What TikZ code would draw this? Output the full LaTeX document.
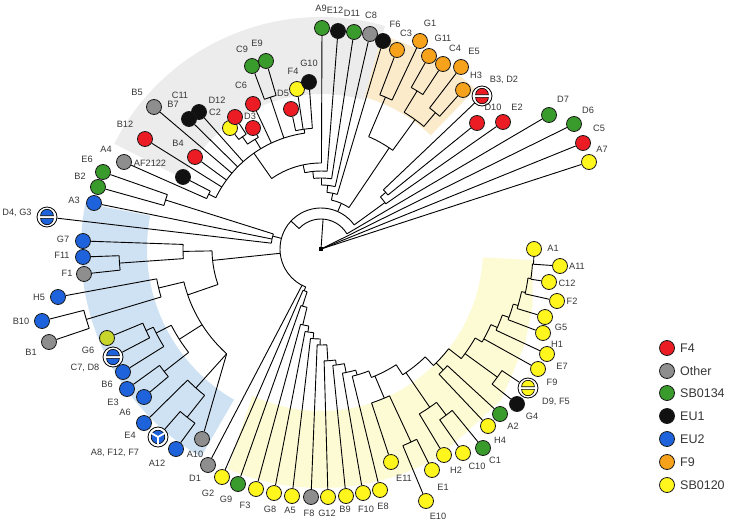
\documentclass[tikz,border=0pt]{standalone}
\usepackage{fontspec}
\setmainfont{Liberation Sans}
\definecolor{cred}{RGB}{236,28,36}
\definecolor{cgry}{RGB}{142,142,142}
\definecolor{cgrn}{RGB}{58,155,45}
\definecolor{cblk}{RGB}{17,17,17}
\definecolor{cblue}{RGB}{30,99,219}
\definecolor{corg}{RGB}{247,162,27}
\definecolor{cyel}{RGB}{255,246,30}
\definecolor{cyg}{RGB}{200,214,44}
\definecolor{shgray}{RGB}{236,236,236}
\definecolor{shorg}{RGB}{251,235,203}
\definecolor{shblue}{RGB}{207,226,243}
\definecolor{shyel}{RGB}{253,251,211}
\definecolor{labcol}{RGB}{55,55,55}
\pgfdeclarelayer{shade}
\pgfdeclarelayer{branches}
\pgfsetlayers{shade,branches,main}
\newcommand\brArc[3]{\draw[br] (#2:#1pt) arc[start angle=#2,end angle=#3,radius=#1pt];}
\newcommand\brRad[3]{\draw[br] (#1:#2pt) -- (#1:#3pt);}
\newcommand\brLeaf[3]{\draw[br] (#2:#1pt) -- (#3);}
\newcommand\halfdisks[2]{%
 \filldraw[fill=#2,draw=black,line width=0.6pt] ([shift={(6.4pt,1.3pt)}]#1.center) arc[start angle=0,end angle=180,radius=6.4pt] -- cycle;
 \filldraw[fill=#2,draw=black,line width=0.6pt] ([shift={(-6.4pt,-1.3pt)}]#1.center) arc[start angle=180,end angle=360,radius=6.4pt] -- cycle;}
\begin{document}
\begin{tikzpicture}[x=1pt,y=-1pt,
  br/.style={line width=0.9pt, black},
  leaf/.style={circle, draw={rgb,255:red,25;green,25;blue,25}, line width=0.8pt, minimum size=15pt, inner sep=0pt},
  ringb/.style={circle, draw=black, fill=white, line width=0.8pt, minimum size=20pt, inner sep=0pt},
  lab/.style={font=\fontsize{9.2}{10}\selectfont, text=labcol, inner sep=0pt},
  leg/.style={font=\fontsize{12.5}{13}\selectfont, text=labcol, anchor=west, inner sep=0pt}]
\useasboundingbox (0,0) rectangle (733,527);
% ---------- leaves ----------
\node[leaf,fill=cyel] (A7) at (589,162) {};
\node[leaf,fill=cred] (C5) at (583,143) {};
\node[leaf,fill=cgrn] (D6) at (574,124) {};
\node[leaf,fill=cgrn] (D7) at (549,115) {};
\node[leaf,fill=cred] (E2) at (503,122) {};
\node[leaf,fill=cred] (D10) at (477,123) {};
\node[ringb] (B3D2) at (482,96) {};
\node[leaf,fill=cgrn] (A9) at (322,28) {};
\node[leaf,fill=cblk] (E12) at (338,31) {};
\node[leaf,fill=cgrn] (D11) at (354,32) {};
\node[leaf,fill=cgry] (C8) at (370,34) {};
\node[leaf,fill=cblk] (F6) at (383,41) {};
\node[leaf,fill=corg] (C3) at (397,50) {};
\node[leaf,fill=corg] (G1) at (420,41) {};
\node[leaf,fill=corg] (G11) at (429,56) {};
\node[leaf,fill=corg] (C4) at (443,64) {};
\node[leaf,fill=corg] (E5) at (461,67) {};
\node[leaf,fill=corg] (H3) at (463,90) {};
\node[leaf,fill=cyel] (F4y) at (297,89) {};
\node[leaf,fill=cblk] (G10) at (309,82) {};
\node[leaf,fill=cred] (D5) at (291,109) {};
\node[leaf,fill=cgrn] (C9) at (252,66) {};
\node[leaf,fill=cgrn] (E9) at (266,61) {};
\node[leaf,fill=cred] (C6) at (253,104) {};
\node[leaf,fill=cred] (D3) at (253,128) {};
\node[leaf,fill=cyel] (Yc) at (230,128) {};
\node[leaf,fill=cred] (C2) at (235,117) {};
\node[leaf,fill=cblk] (Kb1) at (199,112) {};
\node[leaf,fill=cblk] (Kb2) at (189,119) {};
\node[leaf,fill=cgry] (B5) at (154,107) {};
\node[leaf,fill=cred] (B4) at (195,157) {};
\node[leaf,fill=cred] (B12) at (145,139) {};
\node[leaf,fill=cblk] (AF) at (183,177) {};
\node[leaf,fill=cgry] (A4) at (124,162) {};
\node[leaf,fill=cgrn] (E6) at (103,172) {};
\node[leaf,fill=cgrn] (B2) at (98,187) {};
\node[leaf,fill=cblue] (A3) at (94,203) {};
\node[ringb] (D4G3) at (47,217) {};
\node[leaf,fill=cblue] (G7) at (83,241) {};
\node[leaf,fill=cblue] (F11) at (83,257) {};
\node[leaf,fill=cgry] (F1) at (84,274) {};
\node[leaf,fill=cblue] (H5) at (58,297) {};
\node[leaf,fill=cblue] (B10) at (42,321) {};
\node[leaf,fill=cgry] (B1) at (49,342) {};
\node[leaf,fill=cyg] (G6) at (107,338) {};
\node[ringb] (C7D8) at (113,357) {};
\node[leaf,fill=cblue] (B6) at (123,372) {};
\node[leaf,fill=cblue] (E3) at (127,389) {};
\node[leaf,fill=cblue] (A6) at (144,397) {};
\node[leaf,fill=cblue] (E4) at (144,423) {};
\node[ringb] (AFF) at (158,437) {};
\node[leaf,fill=cblue] (A12) at (176,449) {};
\node[leaf,fill=cgry] (A10) at (202,439) {};
\node[leaf,fill=cgry] (D1) at (208,465) {};
\node[leaf,fill=cyel] (G2) at (222,477) {};
\node[leaf,fill=cgrn] (G9) at (238,484) {};
\node[leaf,fill=cyel] (F3) at (256,489) {};
\node[leaf,fill=cyel] (G8) at (274,493) {};
\node[leaf,fill=cyel] (A5) at (292,496) {};
\node[leaf,fill=cgry] (F8) at (311,497) {};
\node[leaf,fill=cyel] (G12) at (328,497) {};
\node[leaf,fill=cyel] (B9) at (346,496) {};
\node[leaf,fill=cyel] (F10) at (363,493) {};
\node[leaf,fill=cyel] (E8) at (380,490) {};
\node[leaf,fill=cyel] (E11) at (391,462) {};
\node[leaf,fill=cyel] (E10) at (426,501) {};
\node[leaf,fill=cyel] (E1) at (432,470) {};
\node[leaf,fill=cyel] (H2) at (444,455) {};
\node[leaf,fill=cyel] (C10) at (463,453) {};
\node[leaf,fill=cgrn] (C1) at (483,448) {};
\node[leaf,fill=cyel] (H4) at (488,426) {};
\node[leaf,fill=cgrn] (A2) at (500,414) {};
\node[leaf,fill=cblk] (G4) at (517,404) {};
\node[ringb] (D9F5) at (528,388) {};
\node[leaf,fill=cyel] (F9) at (538,369) {};
\node[leaf,fill=cyel] (E7) at (547,354) {};
\node[leaf,fill=cyel] (H1) at (543,333) {};
\node[leaf,fill=cyel] (G5) at (545,317) {};
\node[leaf,fill=cyel] (F2) at (557,301) {};
\node[leaf,fill=cyel] (C12) at (549,282) {};
\node[leaf,fill=cyel] (A11) at (560,266) {};
\node[leaf,fill=cyel] (A1) at (534,249) {};
\node[fill=black, inner sep=0pt, minimum size=4.5pt] (root) at (321,249) {};
% ring contents
\halfdisks{B3D2}{cred}
\halfdisks{D4G3}{cblue}
\halfdisks{C7D8}{cblue}
\halfdisks{D9F5}{cyel}
\filldraw[fill=cblue,draw=black,line width=0.6pt] (AFF.center) circle[radius=6.8pt];
\foreach \a in {30,150,270} \draw[white,line width=1.8pt] (AFF.center) -- ++(\a:7.4pt);
% ---------- shading ----------
\begin{pgfonlayer}{shade}
\fill[white] (0,0) rectangle (733,527);
\begin{scope}[shift={(321,249)}]
\fill[shgray] (74:155pt) arc[start angle=74,end angle=153,radius=155pt] -- (153:232pt) arc[start angle=153,end angle=74,radius=232pt] -- cycle;
\fill[shorg] (46:158pt) arc[start angle=46,end angle=74,radius=158pt] -- (74:222pt) arc[start angle=74,end angle=46,radius=222pt] -- cycle;
\fill[shblue] (169:174pt) arc[start angle=169,end angle=240,radius=174pt] -- (240:240pt) arc[start angle=240,end angle=169,radius=240pt] -- cycle;
\fill[shyel] (245:162pt) arc[start angle=245,end angle=357,radius=162pt] -- (357:212pt) -- (345:219pt) -- (335:225pt) -- (320:235pt) -- (300:239pt) arc[start angle=300,end angle=247,radius=239pt] -- cycle;
\end{scope}
\end{pgfonlayer}
% ---------- branches ----------
\begin{pgfonlayer}{branches}
\begin{scope}[shift={(321,249)}]
\brLeaf{0}{18.0}{A7}
\brLeaf{0}{22.0}{C5}
\brLeaf{0}{26.3}{D6}
\brRad{86}{0}{30}
\brArc{30}{30.4}{137}
\brLeaf{30}{30.4}{D7}
\brRad{137}{30}{41}
\brArc{41}{36}{248}
% N1
\brRad{36}{41}{79}
\brArc{79}{34.9}{41.2}
\brLeaf{79}{34.9}{E2}
\brRad{41.2}{79}{86}
\brArc{86}{38.9}{43.5}
\brLeaf{86}{38.9}{D10}
\brLeaf{86}{43.5}{B3D2}
% top ladder and orange clade
\brRad{66}{41}{50}
\brArc{50}{56}{78}
\brRad{56}{50}{122}
\brArc{122}{54}{67}
\brRad{67}{122}{165}
\brArc{165}{64.5}{69.1}
\brLeaf{165}{64.5}{G1}
\brLeaf{165}{69.1}{C3}
\brRad{54}{122}{160}
\brArc{160}{50}{58.7}
\brRad{50}{160}{178}
\brArc{178}{48.2}{52.4}
\brLeaf{178}{48.2}{H3}
\brLeaf{178}{52.4}{E5}
\brRad{58.7}{160}{185}
\brArc{185}{56.6}{60.8}
\brLeaf{185}{56.6}{C4}
\brLeaf{185}{60.8}{G11}
\brRad{78}{50}{57}
\brArc{57}{73.4}{84}
\brLeaf{57}{73.4}{F6}
\brRad{84}{57}{64}
\brArc{64}{77.2}{90}
\brLeaf{64}{77.2}{C8}
\brRad{90}{64}{71}
\brArc{71}{81.4}{96}
\brLeaf{71}{81.4}{D11}
\brRad{96}{71}{78}
\brArc{78}{85.5}{102}
\brLeaf{78}{85.5}{E12}
\brRad{102}{78}{86}
\brArc{86}{89.7}{125}
\brLeaf{86}{89.7}{A9}
% grey clade
\brRad{125}{86}{117}
\brArc{117}{98}{154}
\brRad{98}{117}{121}
\brArc{121}{94.1}{102.1}
\brLeaf{121}{94.1}{G10}
\brLeaf{121}{98.5}{F4y}
\brLeaf{121}{102.1}{D5}
\brRad{108.5}{117}{160}
\brArc{160}{106.3}{110.7}
\brLeaf{160}{106.3}{E9}
\brLeaf{160}{110.7}{C9}
\brLeaf{117}{115.1}{C6}
\brRad{121}{117}{128}
\brArc{128}{119.3}{125}
\brLeaf{128}{119.3}{D3}
\brRad{125}{128}{137}
\brArc{137}{123.1}{126.9}
\brLeaf{137}{123.1}{C2}
\brLeaf{137}{126.9}{Yc}
\brLeaf{117}{131.7}{Kb1}
\brLeaf{117}{135.4}{Kb2}
\brLeaf{117}{139.6}{B5}
\brLeaf{117}{143.9}{B4}
\brLeaf{117}{148.0}{B12}
\brRad{154}{117}{125}
\brArc{125}{152.4}{156.2}
\brLeaf{125}{152.4}{AF}
\brLeaf{125}{156.2}{A4}
% left group
\brRad{165}{41}{50}
\brArc{50}{162.5}{173.3}
\brRad{162.5}{50}{163}
\brArc{163}{160.5}{164.5}
\brLeaf{163}{160.5}{E6}
\brLeaf{163}{164.5}{B2}
\brLeaf{50}{168.5}{A3}
\brLeaf{50}{173.3}{D4G3}
% blue clade
\brRad{186}{41}{109}
\brArc{109}{181}{199}
\brRad{181}{109}{138}
\brArc{138}{178.1}{184}
\brLeaf{138}{178.1}{G7}
\brRad{184}{138}{202}
\brArc{202}{181.9}{186}
\brLeaf{202}{181.9}{F11}
\brLeaf{202}{186}{F1}
\brRad{199}{109}{141}
\brArc{141}{193.5}{228}
\brRad{193.5}{141}{167}
\brArc{167}{190.3}{196.7}
\brLeaf{167}{190.3}{H5}
\brRad{196.7}{167}{245}
\brArc{245}{194.5}{198.9}
\brLeaf{245}{194.5}{B10}
\brLeaf{245}{198.9}{B1}
\brRad{212.5}{141}{168}
\brArc{168}{207}{218}
\brRad{207}{168}{185}
\brArc{185}{205}{211.8}
\brRad{205}{185}{193}
\brArc{193}{202.6}{207.4}
\brLeaf{193}{202.6}{G6}
\brLeaf{193}{207.4}{C7D8}
\brLeaf{185}{211.8}{B6}
\brRad{218}{168}{199}
\brArc{199}{215.8}{219.9}
\brLeaf{199}{215.8}{E3}
\brLeaf{199}{219.9}{A6}
\brRad{228}{141}{187}
\brArc{187}{224.5}{231.5}
\brLeaf{187}{224.5}{E4}
\brRad{231.5}{187}{215}
\brArc{215}{229.1}{234.1}
\brLeaf{215}{229.1}{AFF}
\brLeaf{215}{234.1}{A12}
\brLeaf{141}{228}{A10}
\brLeaf{41}{242.4}{D1}
% bottom ladder
\brRad{248}{41}{45}
\brArc{45}{246.5}{252}
\brLeaf{45}{246.5}{G2}
\brRad{252}{45}{60}
\brArc{60}{250.5}{256.5}
\brLeaf{60}{250.5}{G9}
\brRad{256.5}{60}{78}
\brArc{78}{254.8}{261}
\brLeaf{78}{254.8}{F3}
\brRad{261}{78}{84}
\brArc{84}{259.1}{265}
\brLeaf{84}{259.1}{G8}
\brRad{265}{84}{90}
\brArc{90}{263.3}{269.5}
\brLeaf{90}{263.3}{A5}
\brRad{269.5}{90}{96}
\brArc{96}{267.7}{273.5}
\brLeaf{96}{267.7}{F8}
\brRad{273.5}{96}{112}
\brArc{112}{271.6}{277.5}
\brLeaf{112}{271.6}{G12}
\brRad{277.5}{112}{117}
\brArc{117}{275.8}{281.5}
\brLeaf{117}{275.8}{B9}
\brRad{281.5}{117}{126}
\brArc{126}{279.8}{286}
\brLeaf{126}{279.8}{F10}
\brRad{286}{126}{131}
\brArc{131}{283.8}{291.4}
\brLeaf{131}{283.8}{E8}
\brRad{291.4}{131}{138}
\brArc{138}{291.4}{303}
\brRad{293}{138}{162}
\brArc{162}{288.2}{295}
\brLeaf{162}{288.2}{E11}
\brRad{295}{162}{213}
\brArc{213}{292.6}{296.7}
\brLeaf{213}{292.6}{E10}
\brLeaf{213}{296.7}{E1}
\brRad{303}{138}{150}
\brArc{150}{303}{314}
\brRad{304.5}{150}{192}
\brArc{192}{300.8}{307}
\brLeaf{192}{300.8}{H2}
\brRad{307}{192}{208}
\brArc{208}{304.8}{309.1}
\brLeaf{208}{304.8}{C10}
\brLeaf{208}{309.1}{C1}
\brRad{314}{150}{162}
\brArc{162}{314}{322}
\brRad{315.3}{162}{172}
\brArc{172}{313.3}{317.3}
\brLeaf{172}{313.3}{H4}
\brLeaf{172}{317.3}{A2}
\brRad{322}{162}{178}
\brArc{178}{322}{330}
\brRad{324}{178}{218}
\brArc{218}{321.7}{326.1}
\brLeaf{218}{321.7}{G4}
\brLeaf{218}{326.1}{D9F5}
\brRad{330}{178}{186}
\brArc{186}{330}{336}
\brLeaf{186}{331.1}{F9}
\brRad{336}{186}{193}
\brArc{193}{335.1}{340}
\brLeaf{193}{335.1}{E7}
\brRad{340}{193}{200}
\brArc{200}{339.3}{344}
\brLeaf{200}{339.3}{H1}
\brRad{344}{200}{205}
\brArc{205}{343.1}{348}
\brLeaf{205}{343.1}{G5}
\brRad{348}{205}{209}
\brArc{209}{347.6}{352}
\brLeaf{209}{347.6}{F2}
\brRad{352}{209}{212}
\brArc{212}{351.8}{356}
\brLeaf{212}{351.8}{C12}
\brRad{356}{212}{213}
\brArc{213}{355.9}{358}
\brLeaf{213}{355.9}{A11}
\end{scope}
\end{pgfonlayer}
% ---------- labels ----------
\node[lab] (tB5) at (137,92) {B5};
\node[lab] (tC11) at (180,95) {C11};
\node[lab] (tB7) at (173,104) {B7};
\node[lab] (tD12) at (217,100) {D12};
\node[lab] (tC2) at (215,112) {C2};
\node[lab] (tC6) at (241,85) {C6};
\node[lab] (tD3) at (250,116) {D3};
\node[lab] (tD5) at (283,93) {D5};
\node[lab] (tF4) at (293,71) {F4};
\node[lab] (tG10) at (309,63) {G10};
\node[lab] (tC9) at (242,49) {C9};
\node[lab] (tE9) at (257,43) {E9};
\node[lab] (tB12) at (125,124) {B12};
\node[lab] (tB4) at (178,143) {B4};
\node[lab] (tAF) at (150,163) {AF2122};
\node[lab] (tA4) at (106,149) {A4};
\node[lab] (tE6) at (87,159) {E6};
\node[lab] (tB2) at (80,176) {B2};
\node[lab] (tA3) at (74,200) {A3};
\node[lab] (tD4) at (17,213) {D4, G3};
\node[lab] (tA9) at (321,8) {A9};
\node[lab] (tE12) at (335,10) {E12};
\node[lab] (tD11) at (352,13) {D11};
\node[lab] (tC8) at (371,15) {C8};
\node[lab] (tF6) at (395,24) {F6};
\node[lab] (tC3) at (406,33) {C3};
\node[lab] (tG1) at (430,23) {G1};
\node[lab] (tG11) at (443,38) {G11};
\node[lab] (tC4) at (455,48) {C4};
\node[lab] (tE5) at (474,51) {E5};
\node[lab] (tH3) at (476,75) {H3};
\node[lab] (tB3) at (504,80) {B3, D2};
\node[lab] (tD10) at (493,107) {D10};
\node[lab] (tE2) at (517,107) {E2};
\node[lab] (tD7) at (563,99) {D7};
\node[lab] (tD6) at (588,110) {D6};
\node[lab] (tC5) at (599,128) {C5};
\node[lab] (tA7) at (602,149) {A7};
\node[lab] (tA1) at (553,248) {A1};
\node[lab] (tA11) at (577,266) {A11};
\node[lab] (tC12) at (567,283) {C12};
\node[lab] (tF2) at (572,301) {F2};
\node[lab] (tG5) at (561,327) {G5};
\node[lab] (tH1) at (557,344) {H1};
\node[lab] (tE7) at (562,366) {E7};
\node[lab] (tF9) at (552,382) {F9};
\node[lab] (tD9) at (556,402) {D9, F5};
\node[lab] (tG4) at (532,416) {G4};
\node[lab] (tA2) at (513,426) {A2};
\node[lab] (tH4) at (500,440) {H4};
\node[lab] (tC1) at (495,460) {C1};
\node[lab] (tC10) at (477,466) {C10};
\node[lab] (tH2) at (456,470) {H2};
\node[lab] (tE1) at (443,487) {E1};
\node[lab] (tE10) at (438,516) {E10};
\node[lab] (tE11) at (404,478) {E11};
\node[lab] (tE8) at (383,506) {E8};
\node[lab] (tF10) at (366,509) {F10};
\node[lab] (tB9) at (345,509) {B9};
\node[lab] (tG12) at (327,513) {G12};
\node[lab] (tF8) at (309,513) {F8};
\node[lab] (tA5) at (290,510) {A5};
\node[lab] (tG8) at (270,509) {G8};
\node[lab] (tF3) at (245,505) {F3};
\node[lab] (tG9) at (226,499) {G9};
\node[lab] (tG2) at (208,493) {G2};
\node[lab] (tD1) at (195,478) {D1};
\node[lab] (tA10) at (195,454) {A10};
\node[lab] (tA12) at (157,463) {A12};
\node[lab] (tAF7) at (115,453) {A8, F12, F7};
\node[lab] (tE4) at (130,435) {E4};
\node[lab] (tA6) at (125,412) {A6};
\node[lab] (tE3) at (113,402) {E3};
\node[lab] (tB6) at (107,384) {B6};
\node[lab] (tC7) at (85,368) {C7, D8};
\node[lab] (tG6) at (88,350) {G6};
\node[lab] (tB1) at (31,352) {B1};
\node[lab] (tB10) at (21,321) {B10};
\node[lab] (tH5) at (39,297) {H5};
\node[lab] (tF1) at (67,273) {F1};
\node[lab] (tF11) at (62,255) {F11};
\node[lab] (tG7) at (63,239) {G7};
% ---------- legend ----------
\node[leaf,fill=cred] (lg1) at (667,348) {};
\node[leg] (lt1) at (680,348) {F4};
\node[leaf,fill=cgry] (lg2) at (667,371) {};
\node[leg] (lt2) at (680,371) {Other};
\node[leaf,fill=cgrn] (lg3) at (667,393) {};
\node[leg] (lt3) at (680,393) {SB0134};
\node[leaf,fill=cblk] (lg4) at (667,416) {};
\node[leg] (lt4) at (680,416) {EU1};
\node[leaf,fill=cblue] (lg5) at (667,439) {};
\node[leg] (lt5) at (680,439) {EU2};
\node[leaf,fill=corg] (lg6) at (667,462) {};
\node[leg] (lt6) at (680,462) {F9};
\node[leaf,fill=cyel] (lg7) at (667,485) {};
\node[leg] (lt7) at (680,485) {SB0120};
\end{tikzpicture}
\end{document}
